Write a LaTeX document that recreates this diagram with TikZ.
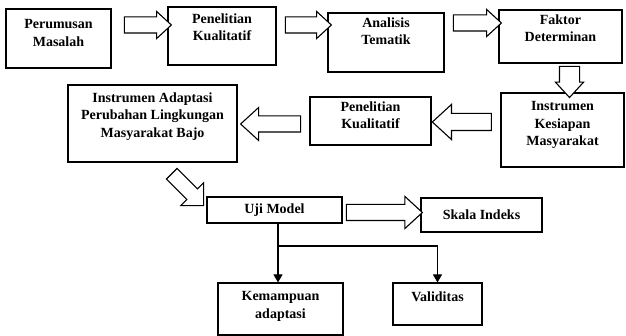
\documentclass[tikz,border=0pt]{standalone}
\usepackage{fontspec}
\setmainfont{Liberation Serif}
\usetikzlibrary{shapes.arrows,arrows.meta}
\begin{document}
\begin{tikzpicture}[x=1pt,y=-1pt]
    \tikzstyle{box}=[draw, line width=1.1pt, inner sep=0pt, font=\fontsize{14}{17.5}\selectfont\bfseries]
    \tikzstyle{lbl}=[align=center, anchor=north, inner sep=0pt, font=\fontsize{14}{17.5}\selectfont\bfseries]
    \tikzstyle{panah}=[single arrow, draw, line width=1.1pt, fill=white, single arrow tip angle=85]
    \tikzstyle{garis}=[line width=1.1pt, -{Triangle[width=9pt,length=8pt]}]
    \useasboundingbox (0,0) rectangle (626,336);
    % baris atas
    \node[box, minimum width=105, minimum height=59, label={[lbl, yshift=-11pt]north:{Perumusan\\Masalah}}] (masalah) at (58.5,38.5) {};
    \node[box, minimum width=108, minimum height=58, label={[lbl, yshift=-7pt]north:{Penelitian\\Kualitatif}}] (kualitatif) at (222,36) {};
    \node[box, minimum width=116, minimum height=59, label={[lbl, yshift=-5pt]north:{Analisis\\Tematik}}] (tematik) at (386,42.5) {};
    \node[box, minimum width=123, minimum height=53, label={[lbl, yshift=-5pt]north:{Faktor\\Determinan}}] (faktor) at (560.5,36.5) {};
    % baris tengah
    \node[box, minimum width=123, minimum height=74, label={[lbl, yshift=-9pt]north:{Instrumen\\Kesiapan\\Masyarakat}}] (kesiapan) at (562.5,130) {};
    \node[box, minimum width=121, minimum height=48, label={[lbl, yshift=-5pt]north:{Penelitian\\Kualitatif}}] (kualitatif2) at (370.5,121) {};
    \node[box, minimum width=169, minimum height=77, label={[lbl, yshift=-8pt]north:{Instrumen Adaptasi\\Perubahan Lingkungan\\Masyarakat Bajo}}] (adaptasi) at (152.5,123.5) {};
    % baris bawah
    \node[box, minimum width=135, minimum height=26] (uji) at (274.5,210) {Uji Model};
    \node[box, minimum width=121, minimum height=34] (skala) at (481.5,215) {Skala Indeks};
    \node[box, minimum width=125, minimum height=52, label={[lbl, yshift=-9pt]north:{Kemampuan\\adaptasi}}] (kemampuan) at (280.5,309) {};
    \node[box, minimum width=89, minimum height=42, label={[lbl, yshift=-9pt]north:{Validitas}}] (validitas) at (437.5,304) {};
    % panah blok
    \node[panah, minimum height=47, inner sep=7.5pt, single arrow head extend=5.5pt] (p1) at (143.5,25) {};
    \node[panah, minimum height=46, inner sep=7.5pt, single arrow head extend=5.5pt] (p2) at (304,25) {};
    \node[panah, minimum height=48, inner sep=7.5pt, single arrow head extend=5.5pt] (p3) at (473,23) {};
    \node[panah, minimum height=23, inner sep=9.5pt, single arrow head extend=4pt, shape border rotate=270] (p4) at (569.5,76.5) {};
    \node[panah, minimum height=59, inner sep=8pt, single arrow head extend=9pt, shape border rotate=180] (p5) at (466.5,122) {};
    \node[panah, minimum height=60, inner sep=7.5pt, single arrow head extend=8.5pt, shape border rotate=180] (p6) at (275,124) {};
    \node[panah, minimum height=45, inner sep=7pt, single arrow head extend=8.5pt, rotate=-45, single arrow tip angle=90] (p7) at (185,187) {};
    \node[panah, minimum height=76, inner sep=7.5pt, single arrow head extend=8pt] (p8) at (380,212.5) {};
    % cabang
    \coordinate (cabang) at (278,246);
    \draw[garis] (uji.south -| cabang) -- (kemampuan.north -| cabang);
    \draw[garis] (uji.south -| cabang) -- (cabang) -| (validitas.north);
\end{tikzpicture}
\end{document}
